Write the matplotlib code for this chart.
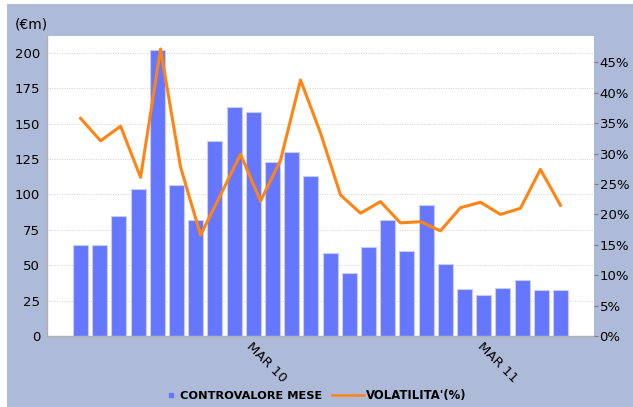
import numpy as np
import matplotlib
matplotlib.use("Agg")
import matplotlib.pyplot as plt
from matplotlib.lines import Line2D
from matplotlib.patches import Rectangle

# mesi (giu 09 - lug 11)
mesi = ['GIU 09', 'LUG 09', 'AGO 09', 'SET 09', 'OTT 09', 'NOV 09', 'DIC 09',
        'GEN 10', 'FEB 10', 'MAR 10', 'APR 10', 'MAG 10', 'GIU 10', 'LUG 10',
        'AGO 10', 'SET 10', 'OTT 10', 'NOV 10', 'DIC 10', 'GEN 11', 'FEB 11',
        'MAR 11', 'APR 11', 'MAG 11', 'GIU 11', 'LUG 11']

# controvalore mensile (milioni di euro)
controvalore = [64, 64.5, 84.6, 104, 202, 107, 81.7, 137.6, 161.6, 158, 123, 130,
                113, 59, 44.5, 62.7, 82.2, 60, 92.3, 50.6, 33, 29.2, 33.9, 39.6,
                32.5, 32.5]

# volatilita' (%)
volatilita = [35.8, 32.1, 34.5, 26.1, 47.2, 27.8, 16.6, 23.2, 29.9, 22.2, 28.9,
              42.1, 33.4, 23.2, 20.2, 22.1, 18.6, 18.8, 17.3, 21.1, 22.0, 20.0,
              21.0, 27.4, 21.5]

sfondo = '#adbbd9'
blu = '#6677ff'
arancio = '#ff8414'

fig = plt.figure(figsize=(6.33, 4.07), dpi=100, facecolor='white')
fig.patches.append(Rectangle((7 / 633, 0), 1, (407 - 4) / 407, transform=fig.transFigure,
                             facecolor=sfondo, edgecolor='none', zorder=-10))

ax = fig.add_axes([47 / 633, 71 / 407, 547 / 633, 300 / 407])
ax.set_facecolor('white')

x = np.arange(len(mesi))
ax.bar(x, controvalore, width=0.78, color=blu, edgecolor='#c9cdf2', linewidth=0.8, zorder=2)

ax.set_xlim(-1.75, 26.75)
ax.set_ylim(0, 212)
ax.set_yticks(np.arange(0, 201, 25))
ax.tick_params(axis='y', length=0, labelsize=9.5, pad=5)
for yv in np.arange(25, 201, 25):
    ax.axhline(yv, color='#cfcfcf', linestyle=(0, (1, 1.5)), linewidth=0.7, zorder=1)

pos_mar = [i for i, m in enumerate(mesi) if m.startswith('MAR')]
ax.set_xticks(pos_mar)
ax.set_xticklabels([mesi[i] for i in pos_mar], rotation=-45, ha='left', va='top',
                   rotation_mode='anchor', fontsize=9.5)
ax.tick_params(axis='x', length=0, pad=3)

for s in ['top', 'right']:
    ax.spines[s].set_visible(False)
for s in ['left', 'bottom']:
    ax.spines[s].set_color('#b0b0b0')
    ax.spines[s].set_linewidth(1)

ax2 = ax.twinx()
xl = np.linspace(0, len(mesi) - 1, len(volatilita))
ax2.plot(xl, volatilita, color=arancio, linewidth=2.2, zorder=3)
ax2.set_ylim(0, 49.34)
ax2.set_yticks(np.arange(0, 46, 5))
ax2.set_yticklabels([f'{v}%' for v in range(0, 46, 5)])
ax2.tick_params(axis='y', length=3, color='#808080', labelsize=9.5, pad=1)
for s in ['top', 'left', 'bottom', 'right']:
    ax2.spines[s].set_visible(False)

fig.text(15 / 633, 1 - 24 / 407, '(€m)', fontsize=10, va='center', ha='left')

# legenda: due blocchi separati per controllare la lunghezza dei simboli
ly = 1 - 396 / 407
leg1 = fig.legend([Line2D([], [], marker='s', linestyle='none', color=blu, markersize=3.5)],
                  ['CONTROVALORE MESE'], loc='center left', bbox_to_anchor=(165 / 633, ly),
                  frameon=False, borderpad=0, borderaxespad=0, handlelength=1.0,
                  handletextpad=0.35, prop={'size': 8.2, 'weight': 'bold'})
fig.legend([Line2D([], [], color=arancio, linewidth=1.8)], ["VOLATILITA'(%)"],
           loc='center left', bbox_to_anchor=(332 / 633, ly), frameon=False,
           borderpad=0, borderaxespad=0, handlelength=2.7, handletextpad=0.25,
           prop={'size': 8.4, 'weight': 'bold'})

fig.savefig('out.png', dpi=100, facecolor='white')
